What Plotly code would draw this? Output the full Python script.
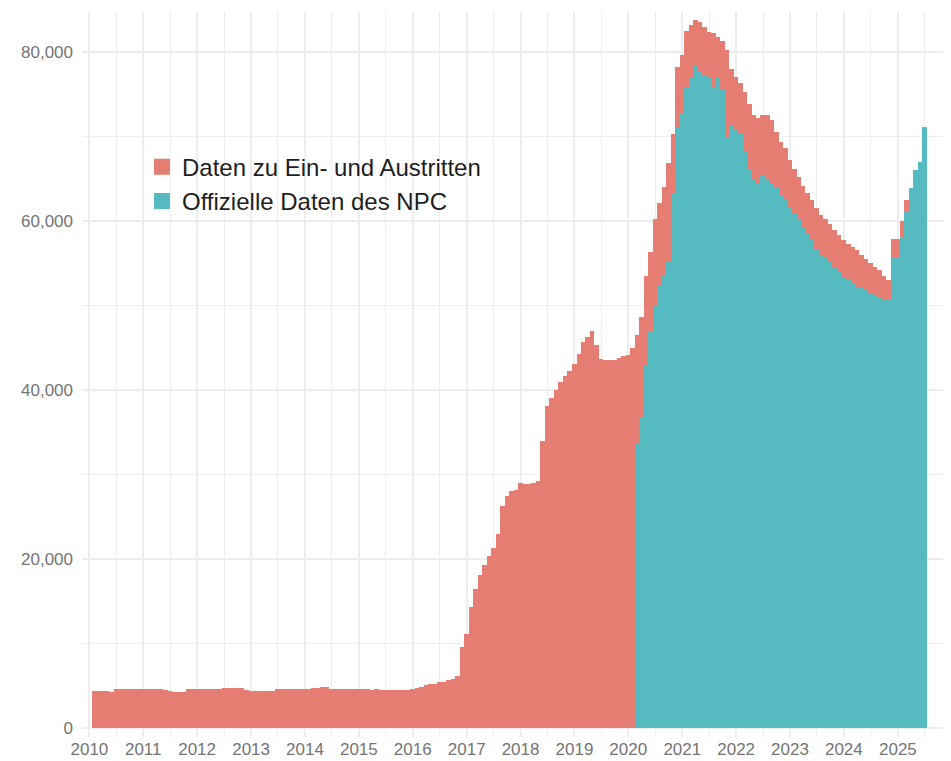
import pandas as pd
import plotly.graph_objects as go

# ---- data (monthly values) ----
red_name = "Daten zu Ein- und Austritten"
teal_name = "Offizielle Daten des NPC"

red_start = "2010-01-31"
red_values = [
    # 2010
    4380, 4400, 4380, 4350, 4300, 4560, 4600, 4620, 4650, 4620, 4580, 4560,
    # 2011
    4580, 4560, 4580, 4600, 4520, 4400, 4280, 4250, 4280, 4560, 4600, 4620,
    # 2012
    4580, 4580, 4560, 4580, 4600, 4700, 4720, 4720, 4700, 4680, 4500, 4400,
    # 2013
    4380, 4360, 4350, 4370, 4400, 4600, 4620, 4620, 4610, 4620, 4640, 4650,
    # 2014
    4660, 4680, 4700, 4800, 4820, 4600, 4580, 4570, 4560, 4570, 4580, 4570,
    # 2015
    4580, 4560, 4550, 4580, 4520, 4500, 4500, 4510, 4500, 4520, 4550, 4600,
    # 2016
    4750, 4900, 5050, 5150, 5250, 5400, 5500, 5650, 5800, 6200, 9600, 11100,
    # 2017
    14350, 16500, 18100, 19300, 20300, 21300, 23000, 26300, 27500, 28000, 28200, 29050,
    # 2018
    28900, 28900, 29000, 29200, 34000, 38100, 39000, 40000, 41000, 41700, 42200, 43100,
    # 2019
    44300, 45700, 46300, 47000, 45300, 43700, 43500, 43500, 43600, 43800, 44000, 44100,
    # 2020
    45000, 46500, 48600, 53500, 56300, 60300, 62100, 64000, 66900, 70300, 78200, 79600,
    # 2021
    82500, 83200, 83800, 83600, 83000, 82400, 82200, 81800, 81300, 80200, 78000, 77100,
    # 2022
    76300, 75300, 73900, 72500, 72200, 72600, 72500, 71900, 70500, 69400, 68600, 67200,
    # 2023
    66200, 65200, 64200, 63300, 62500, 61500, 60700, 60300, 59600, 58900, 58300, 57700,
    # 2024
    57300, 56900, 56600, 56000, 55500, 55000, 54600, 54200, 53500, 53000, 57900, 57900,
    # 2025
    60000, 62500,
]

teal_start = "2020-02-29"
teal_values = [
    # 2020 (Feb-Dec)
    33600, 36800, 43000, 47000, 50000, 52300, 53600, 55200, 63300, 71100, 72800,
    # 2021
    75800, 77100, 78400, 77800, 77200, 76900, 75900, 77100, 75500, 70000, 71300, 70800,
    # 2022
    70300, 68200, 66200, 64800, 64400, 65300, 65000, 64500, 63900, 63100, 62500, 61700,
    # 2023
    60900, 60100, 59300, 58500, 57800, 56600, 56000, 55700, 55200, 54600, 54000, 53400,
    # 2024
    53000, 52700, 52200, 52100, 51800, 51400, 51200, 51000, 50800, 50600, 55800, 55800,
    # 2025
    58000, 61100, 63900, 66000, 67000, 71100,
]

x_tick_years = [str(y) for y in range(2010, 2026)]
y_tick_values = [0, 20000, 40000, 60000, 80000]

# ---- styles ----
RED = "#E57D72"
TEAL = "#55BBC1"
GRID = "#EDEDED"
TICK_FONT = dict(family="Liberation Sans, Arial, sans-serif", size=17, color="#747474")

red_x = pd.date_range(red_start, periods=len(red_values), freq="ME")
teal_x = pd.date_range(teal_start, periods=len(teal_values), freq="ME")
bar_width = 31 * 24 * 3600 * 1000

fig = go.Figure()
fig.add_trace(go.Bar(x=red_x, y=red_values, name=red_name, width=bar_width,
                     marker=dict(color=RED, line=dict(width=0)), showlegend=False))
fig.add_trace(go.Bar(x=teal_x, y=teal_values, name=teal_name, width=bar_width,
                     marker=dict(color=TEAL, line=dict(width=0)), showlegend=False))
# legend entries
fig.add_trace(go.Scatter(x=[None], y=[None], mode="markers", name=red_name,
                         marker=dict(symbol="square", size=17, color=RED)))
fig.add_trace(go.Scatter(x=[None], y=[None], mode="markers", name=teal_name,
                         marker=dict(symbol="square", size=17, color=TEAL)))

fig.update_layout(
    width=943, height=753,
    barmode="overlay", bargap=0,
    paper_bgcolor="white", plot_bgcolor="white",
    margin=dict(l=74, r=0, t=4, b=24, autoexpand=False),
    legend=dict(x=0.069, y=0.817, xanchor="left", yanchor="top",
                bgcolor="rgba(0,0,0,0)",
                font=dict(family="Liberation Sans, Arial, sans-serif", size=24, color="#1E1E1E"),
                itemsizing="trace", traceorder="normal"),
    xaxis=dict(
        type="date",
        range=["2009-11-12", "2025-12-27"],
        tickvals=[f"{y}-01-01" for y in x_tick_years],
        ticktext=x_tick_years,
        showgrid=True, gridcolor=GRID, gridwidth=1.5,
        minor=dict(tickvals=[f"{y}-07-02" for y in range(2009, 2026)],
                   showgrid=True, gridcolor=GRID, gridwidth=1.2),
        zeroline=False, showline=False, ticks="",
        tickfont=TICK_FONT,
    ),
    yaxis=dict(
        range=[-1065, 84740],
        tickvals=y_tick_values,
        tickformat=",d",
        showgrid=True, gridcolor=GRID, gridwidth=1.5,
        minor=dict(dtick=10000, tick0=0, showgrid=True, gridcolor=GRID, gridwidth=1.2),
        zeroline=False, showline=False, ticks="",
        ticklabelstandoff=8,
        tickfont=TICK_FONT,
    ),
)

fig.write_html("out.html")
